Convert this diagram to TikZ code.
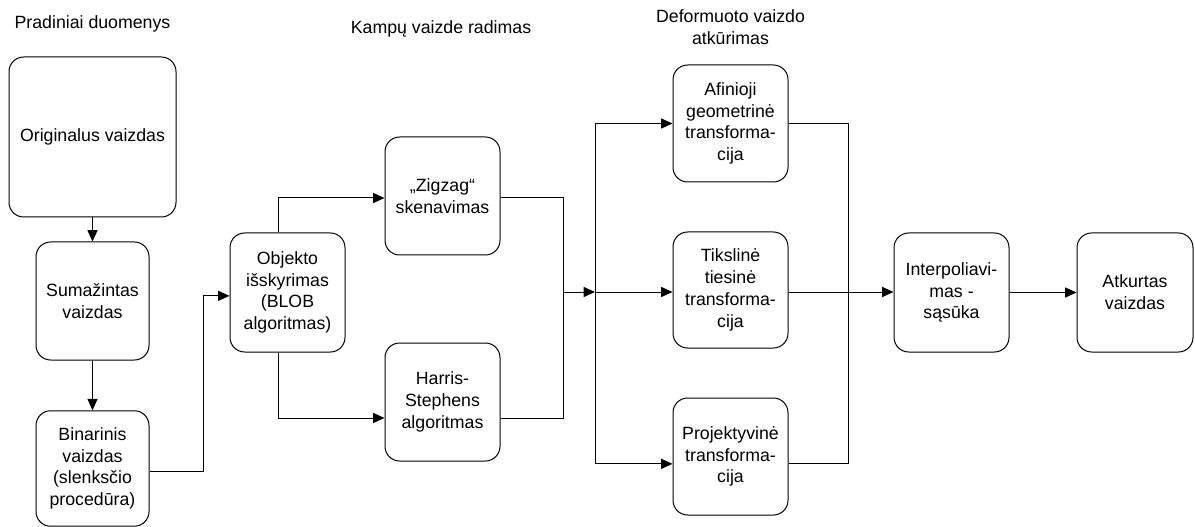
\documentclass[tikz,border=0pt]{standalone}
\usepackage{fontspec}
\setmainfont{Liberation Sans}
\usetikzlibrary{arrows.meta}
\begin{document}
\begin{tikzpicture}[x=0.75pt,y=-0.75pt,
  font=\fontsize{13.3}{16.3}\selectfont,
  box/.style={draw, line width=0.75pt, rounded corners=11pt, align=center, inner sep=0pt},
  wire/.style={line width=0.75pt},
  arr/.style={wire, -{Triangle[length=8.5pt,width=7.5pt]}},
  title/.style={align=center, inner sep=0pt}]
\useasboundingbox (0,0) rectangle (1195,527);

% section titles
\node[title] (t1) at (92.5,24) {Pradiniai duomenys};
\node[title] (t2) at (441,29) {Kampų vaizde radimas};
\node[title] (t3) at (730.5,27) {Deformuoto vaizdo\\atkūrimas};

% input stage
\node[box, minimum width=125.25pt, minimum height=120pt] (orig) at (92.5,137) {Originalus vaizdas};
\node[box, minimum width=84.75pt, minimum height=88.5pt] (sum) at (92.5,301) {Sumažintas\\vaizdas};
\node[box, minimum width=84.75pt, minimum height=86.6pt] (bin) at (92.5,468.5) {Binarinis\\vaizdas\\(slenksčio\\procedūra)};

% corner detection stage
\node[box, minimum width=86.25pt, minimum height=89.25pt] (obj) at (287.5,292.5) {Objekto\\išskyrimas\\(BLOB\\algoritmas)};
\node[box, minimum width=86.25pt, minimum height=88.5pt] (zig) at (442.5,196) {„Zigzag“\\skenavimas};
\node[box, minimum width=86.25pt, minimum height=88.5pt] (har) at (442.5,402) {Harris-\\Stephens\\algoritmas};

% restoration stage
\node[box, minimum width=86.25pt, minimum height=87.75pt] (afin) at (730.5,123.5) {Afinioji\\geometrinė\\transforma-\\cija};
\node[box, minimum width=86.25pt, minimum height=87pt] (tik) at (730.5,290) {Tikslinė\\tiesinė\\transforma-\\cija};
\node[box, minimum width=86.25pt, minimum height=87.75pt] (proj) at (730.5,456.5) {Projektyvinė\\transforma-\\cija};

\node[box, minimum width=86.25pt, minimum height=89.25pt] (int) at (951.5,292.5) {Interpoliavi-\\mas -\\sąsūka};
\node[box, minimum width=87pt, minimum height=89.25pt] (atk) at (1135,292.5) {Atkurtas\\vaizdas};

% junction points
\coordinate (m1) at (563,292);
\coordinate (bus) at (595,292);
\coordinate (m2) at (848,292);

% connectors
\draw[arr] (orig) -- (sum);
\draw[arr] (sum) -- (bin);
\draw[arr] ([yshift=-2pt]bin.east) -- ++(54,0) |- ([yshift=-2.5pt]obj.west);

\draw[arr] ([xshift=-7pt]obj.north) |- ([yshift=-1.5pt]zig.west);
\draw[arr] ([xshift=-7pt]obj.south) |- ([yshift=-12pt]har.west);

\draw[wire] ([yshift=-1.5pt]zig.east) -| (m1);
\draw[wire] ([yshift=-12pt]har.east) -| (m1);
\draw[arr] (m1) -- (bus);

\draw[arr] (bus) |- (afin.west);
\draw[arr] (bus) -- (tik.west |- bus);
\draw[arr] (bus) |- ([yshift=-5.5pt]proj.west);

\draw[wire] (afin.east) -| (m2);
\draw[wire] ([yshift=-5.5pt]proj.east) -| (m2);
\draw[arr] (tik.east |- m2) -- (int.west |- m2);
\draw[arr] (int) -- (atk);
\end{tikzpicture}
\end{document}
